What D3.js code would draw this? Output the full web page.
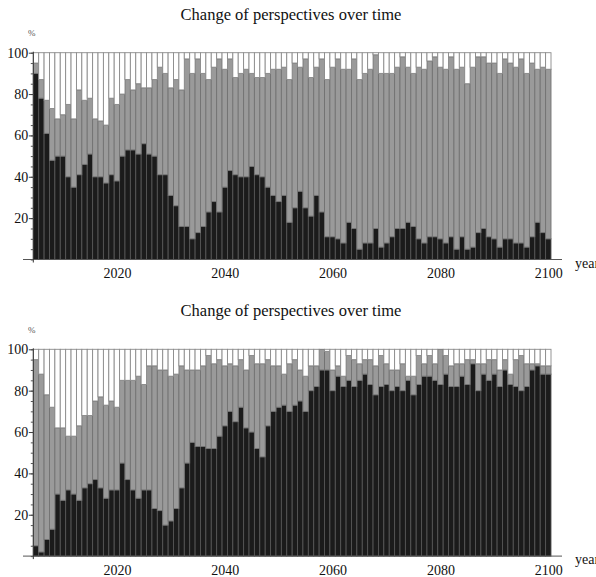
<!DOCTYPE html>
<html><head><meta charset="utf-8">
<script src="https://cdn.jsdelivr.net/npm/d3@7"></script>
<style>
body{margin:0;background:#fff;}
svg{display:block;}
text{font-family:"Liberation Serif","Times New Roman",serif;fill:#111;}
</style>
</head><body>
<svg id="chart" width="596" height="577"></svg>
<script>
const years = d3.range(2005, 2101);
const title = "Change of perspectives over time";
const yTicks = [20, 40, 60, 80, 100];
const yMinorTicks = [0,5,10,15,20,25,30,35,40,45,50,55,60,65,70,75,80,85,90,95,100];
const xTicks = [2020, 2040, 2060, 2080, 2100];

// Top panel: level of the black segment and top of the gray segment (%)
const topBlack = [90,78,61,48,50,50,40,35,41,46,51,40,40,37,41,38,50,53,53,51,56,51,50,41,41,31,26,16,16,10,13,16,23,28,23,35,43,41,40,40,45,41,40,35,31,28,31,18,25,33,25,21,31,23,11,11,10,8,18,15,5,8,8,15,6,8,11,15,15,18,16,10,8,11,11,10,8,11,5,11,5,6,13,15,11,10,6,10,10,8,8,6,11,18,13,10];
const topGray  = [95,87,77,73,68,70,75,68,82,77,78,68,67,65,78,75,80,87,82,85,83,83,87,93,90,83,87,82,97,90,97,90,87,93,97,92,97,88,90,92,90,88,88,90,92,92,93,87,95,93,97,88,93,97,87,93,97,92,92,97,87,90,92,99,90,90,90,93,98,93,90,93,92,96,98,93,92,98,92,93,85,93,98,98,95,95,90,97,95,93,97,90,95,92,93,92];

// Bottom panel
const botBlack = [5,2,8,13,30,27,32,30,27,33,35,37,33,28,32,32,45,37,32,28,32,32,23,22,15,17,23,33,45,55,53,53,52,52,58,63,70,65,72,62,60,52,48,63,70,72,73,70,73,75,70,80,82,90,90,80,87,82,85,82,85,88,83,78,82,83,80,82,80,85,78,83,87,87,85,83,88,82,82,87,83,93,80,88,85,88,82,90,83,82,80,82,90,92,88,88];
const botGray  = [95,88,78,72,62,62,58,58,63,68,68,75,77,73,75,72,85,85,85,87,83,92,92,90,90,87,88,92,90,90,90,92,97,93,95,92,93,92,95,90,97,93,93,95,92,92,88,93,95,90,87,92,92,100,99,90,92,87,97,95,93,95,95,92,97,93,90,90,93,87,87,97,93,97,93,100,97,92,93,93,95,95,93,93,95,95,90,95,88,95,97,93,93,93,92,92];

const svg = d3.select("#chart");
const colors = {black:"#1b1b1b", gray:"#9a9a9a", white:"#ffffff"};
const strokes = {black:"#555555", gray:"#727272", white:"#8a8a8a"};

function drawPanel(off, blackVals, grayVals) {
  const g = svg.append("g");
  const x = d3.scaleLinear().domain([2004.5, 2100.5]).range([33.3, 551]);
  const y = d3.scaleLinear().domain([0, 100]).range([259.5 + off, 52.7 + off]);

  const rows = years.map((yr, i) => ({
    year: yr,
    black: blackVals[i],
    gray: grayVals[i] - blackVals[i],
    white: 100 - grayVals[i]
  }));
  const stack = d3.stack().keys(["black", "gray", "white"])(rows);

  stack.forEach(layer => {
    g.append("g").selectAll("rect").data(layer).join("rect")
      .attr("x", d => x(d.data.year - 0.5))
      .attr("width", d => x(d.data.year + 0.5) - x(d.data.year - 0.5))
      .attr("y", d => y(d[1]))
      .attr("height", d => Math.max(0, y(d[0]) - y(d[1])))
      .attr("fill", colors[layer.key])
      .attr("stroke", strokes[layer.key])
      .attr("stroke-width", 0.9);
  });

  // axes lines
  g.append("line").attr("x1", 23).attr("x2", 562).attr("y1", y(0)).attr("y2", y(0))
    .attr("stroke", "#555").attr("stroke-width", 1);
  g.append("line").attr("x1", 33.3).attr("x2", 33.3).attr("y1", y(100) - 1).attr("y2", y(0) + 3)
    .attr("stroke", "#333").attr("stroke-width", 1);

  // minor y ticks
  const minor = d3.axisLeft(y).tickValues(yMinorTicks).tickSize(2.5).tickFormat("");
  g.append("g").attr("transform", "translate(33.3,0)").call(minor)
    .call(s => s.select(".domain").remove())
    .call(s => s.selectAll("line").attr("stroke", "#555"));
  // major y ticks with labels
  const major = d3.axisLeft(y).tickValues(yTicks).tickSize(4.5).tickPadding(0.5).tickFormat(d3.format("d"));
  g.append("g").attr("transform", "translate(33.3,0)").call(major)
    .call(s => s.select(".domain").remove())
    .call(s => s.selectAll("line").attr("stroke", "#444"))
    .call(s => s.selectAll("text").attr("font-size", 14).attr("font-family", "Liberation Serif").attr("fill", "#111"));

  // x axis labels
  const xa = d3.axisBottom(x).tickValues(xTicks).tickSize(0).tickPadding(8.5).tickFormat(d3.format("d"));
  g.append("g").attr("transform", `translate(0,${y(0)})`).call(xa)
    .call(s => s.select(".domain").remove())
    .call(s => s.selectAll("text").attr("font-size", 14).attr("font-family", "Liberation Serif").attr("fill", "#111"));

  // titles and axis labels
  svg.append("text").attr("x", 291).attr("y", 19.5 + off).attr("text-anchor", "middle")
    .attr("font-size", 16.5).text(title);
  svg.append("text").attr("x", 28).attr("y", 36 + off).attr("font-size", 9)
    .style("fill", "#555").text("%");
  svg.append("text").attr("x", 575).attr("y", y(0) + 8).attr("font-size", 14).text("year");
}

drawPanel(0, topBlack, topGray);
drawPanel(296.6, botBlack, botGray);
</script>
</body></html>
